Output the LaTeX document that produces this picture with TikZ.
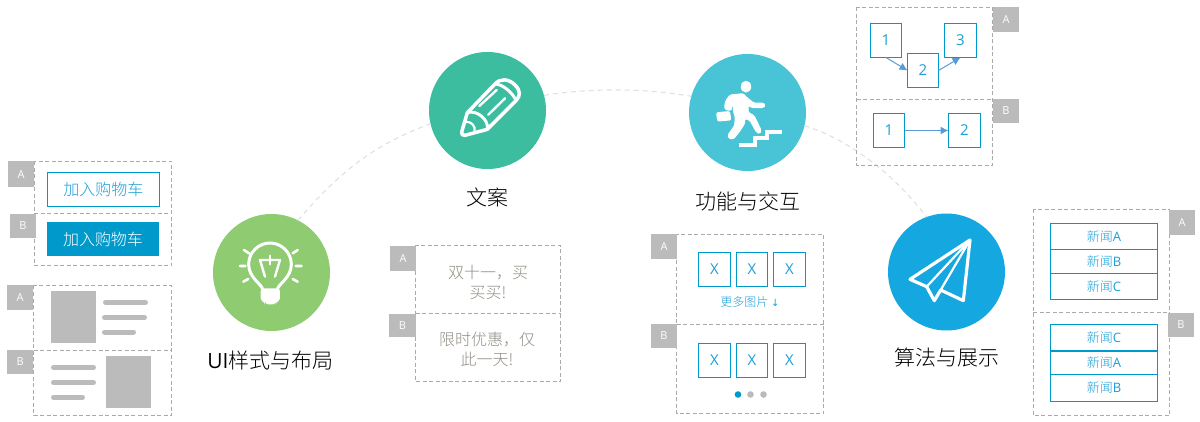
\documentclass[tikz,border=0pt]{standalone}
\usepackage{fontspec}
\setmainfont{Noto Sans CJK SC Light}
\newfontfamily\latf{Open Sans}
\newfontfamily\symf{DejaVu Sans}
\usetikzlibrary{arrows.meta}
\definecolor{mblue}{HTML}{0099CC}
\definecolor{tblue}{HTML}{1A9FD8}
\definecolor{tagg}{HTML}{BBBBBB}
\definecolor{dashg}{HTML}{AAAAAA}
\definecolor{arcg}{HTML}{E0E0E0}
\definecolor{arrowb}{HTML}{5B9BD5}
\definecolor{cgreen}{HTML}{8FCB70}
\definecolor{cteal}{HTML}{3DBDA0}
\definecolor{ccyan}{HTML}{49C4D6}
\definecolor{cblue}{HTML}{14A7E0}
\definecolor{adtext}{HTML}{928D84}
\newcommand{\fs}[1]{\fontsize{#1}{#1}\selectfont}
\tikzset{
  panel/.style={draw=dashg,line width=1pt,dash pattern=on 4pt off 2.5pt},
  arcline/.style={draw=arcg,line width=1.1pt,dash pattern=on 5pt off 4pt},
  tag/.style={fill=tagg,text=white,inner sep=0pt,outer sep=0pt,font=\latf\fs{11}},
  bluebox/.style={draw=mblue,line width=1.2pt,fill=white,text=tblue,inner sep=0pt,outer sep=0pt,font=\latf\fs{15}},
  listbox/.style={bluebox,font=\fs{13}},
  bigcircle/.style={circle,minimum size=117pt,inner sep=0pt,outer sep=0pt},
  title/.style={text=black,inner sep=0pt,font=\fs{21}},
  adcopy/.style={text=adtext,inner sep=0pt,align=center,font=\fontsize{16}{20}\selectfont},
  grayfill/.style={fill=tagg},
  grayline/.style={draw=tagg,line width=5pt,line cap=round},
  icon/.style={draw=white,line width=3pt,line cap=round,line join=round},
  flow/.style={draw=arrowb,line width=1pt,-{Latex[length=8pt,width=8pt]}}
}
\begin{document}
\begin{tikzpicture}[x=1pt,y=-1pt]
\useasboundingbox (0,0) rectangle (1200,422);
% big circles
\node[bigcircle,fill=cgreen] (bulb) at (271.5,272.5) {};
\node[bigcircle,fill=cteal] (pen) at (487.5,110.5) {};
\node[bigcircle,fill=ccyan] (run) at (747.5,112.5) {};
\node[bigcircle,fill=cblue] (plane) at (946.5,272) {};
% arc connectors
\draw[arcline] (bulb.63) .. controls (345,165) and (380,143) .. (pen.193);
\draw[arcline] (pen.15) .. controls (590,88) and (645,88) .. (run.164);
\draw[arcline] (run.-13) .. controls (850,140) and (895,175) .. (plane.110);
% titles
\node[title] (t1) at (270.5,361) {{\latf UI}样式与布局};
\node[title] (t2) at (487.7,197) {文案};
\node[title] (t3) at (747.5,201.5) {功能与交互};
\node[title] (t4) at (947,358) {算法与展示};
% bulb icon
\begin{scope}[shift={(230,235)},x=0.3333pt,y=-0.3333pt]
\draw[icon] (98,165) .. controls (98,148) and (56,130) .. (56,88) .. controls (56,53) and (85,24) .. (120,24) .. controls (155,24) and (184,53) .. (184,88) .. controls (184,130) and (142,148) .. (142,165);
\fill[white,rounded corners=3pt] (92,160) -- (150,160) -- (150,198) -- (137,200) -- (137,208) -- (105,208) -- (105,200) -- (92,198) -- cycle;
\draw[icon,line width=2.4pt] (105,125) -- (90,75) -- (150,75) -- (135,125);
\draw[icon,line width=2.4pt] (120,62) -- (120,88);
\draw[icon,line width=2.6pt] (30,93) -- (47,93) (197,93) -- (215,93) (42,45) -- (57,55) (188,55) -- (203,45) (40,140) -- (55,132) (188,132) -- (203,140);
\end{scope}
% pencil icon
\begin{scope}[shift={(450,70)},x=0.3333pt,y=-0.3333pt]
\draw[icon,line width=3.5pt] (52,128) -- (135,42) .. controls (150,25) and (175,25) .. (195,45) .. controls (212,62) and (212,78) .. (198,92) -- (112,178) -- (45,196) .. controls (38,198) and (33,192) .. (35,186) -- cycle;
\draw[icon] (135,42) .. controls (158,42) and (190,70) .. (198,92);
\draw[icon,line width=3pt] (52,128) .. controls (80,118) and (118,150) .. (112,178);
\draw[icon,line width=2.4pt] (88,108) -- (140,60) (115,134) -- (165,85);
\draw[icon,line width=2.2pt] (46,156) .. controls (62,152) and (78,168) .. (74,186);
\end{scope}
% runner icon
\begin{scope}[shift={(710,75)},x=0.3333pt,y=-0.3333pt]
\fill[white] (108,35) ellipse [x radius=5.2pt,y radius=5.9pt];
\filldraw[white,line width=1pt,line join=round,rounded corners=1.5pt] (47,78) -- (60,60) -- (100,56) -- (106,64) -- (132,85) -- (160,84) -- (166,91) -- (160,98) -- (126,98) -- (114,90) -- (114,112) -- (132,122) -- (153,165) -- (150,176) -- (140,172) -- (120,136) -- (104,130) -- (104,145) -- (88,170) -- (70,192) -- (56,190) -- (54,180) -- (74,152) -- (76,126) -- (70,108) -- (70,88) -- (62,100) -- (64,106) -- (46,104) -- (44,96) -- cycle;
\fill[white,rounded corners=2pt] (18,112) -- (60,108) -- (64,136) -- (22,140) -- cycle;
\draw[white,line width=4pt,line join=miter] (86,210) -- (135,210) -- (135,190) -- (172,190) -- (172,170) -- (216,170);
\end{scope}
% plane icon
\begin{scope}[shift={(900,230)},x=0.3333pt,y=-0.3333pt]
\draw[icon,line width=3.2pt] (210,30) -- (30,148) -- (80,170) -- (103,212) -- (122,180) -- (190,212) -- cycle;
\draw[icon,line width=2.2pt] (210,30) -- (80,170) (210,30) -- (122,180);
\end{scope}
% panel: buttons
\draw[panel] (34,161.5) rectangle (171.5,265.5);
\draw[panel] (34,213.5) -- (171.5,213.5);
\node[tag,minimum width=26pt,minimum height=26pt] (a1) at (21,174.5) {A};
\node[tag,minimum width=26pt,minimum height=24pt] (b1) at (23,226) {B};
\node[draw=mblue,line width=1.2pt,text=tblue,inner sep=0pt,minimum width=112pt,minimum height=34pt,font=\fs{16}] (btn1) at (103.3,189.5) {加入购物车};
\node[fill=mblue,text=white,inner sep=0pt,minimum width=112pt,minimum height=34pt,font=\fs{16}] (btn2) at (103,239) {加入购物车};
% panel: layout
\draw[panel] (33.5,285.5) rectangle (171.5,415.5);
\draw[panel] (33.5,350.5) -- (171.5,350.5);
\node[tag,minimum width=26.5pt,minimum height=25pt] (a2) at (20.2,297.5) {A};
\node[tag,minimum width=26.5pt,minimum height=24pt] (b2) at (20.2,362) {B};
\fill[grayfill] (51,291) rectangle (96,343);
\draw[grayline] (105.5,302.5) -- (145.5,302.5);
\draw[grayline] (104.5,317.5) -- (144.5,317.5);
\draw[grayline] (104.5,332) -- (133.5,332);
\draw[grayline] (53.5,367.5) -- (93.5,367.5);
\draw[grayline] (53.5,382.5) -- (93.5,382.5);
\draw[grayline] (53.5,397.5) -- (82.5,397.5);
\fill[grayfill] (106,356) rectangle (151,408);
% panel: copy
\draw[panel] (415.5,245.5) rectangle (560.5,381.5);
\draw[panel] (415.5,313.5) -- (560.5,313.5);
\node[tag,minimum width=26pt,minimum height=25pt] (a3) at (403,258.5) {A};
\node[tag,minimum width=27pt,minimum height=23pt] (b3) at (402.5,325.5) {B};
\node[adcopy] (c1) at (488,282) {双十一，买\\买买!};
\node[adcopy] (c2) at (487,349.5) {限时优惠，仅\\此一天!};
% panel: more/pager
\draw[panel] (676.5,234.5) rectangle (823.5,413.5);
\draw[panel] (676.5,324.5) -- (823.5,324.5);
\node[tag,minimum width=26pt,minimum height=25pt] (a4) at (664,246.5) {A};
\node[tag,minimum width=26pt,minimum height=24pt] (b4) at (664,336) {B};
\foreach \n/\cx/\w in {1/714.5/32,2/752/31,3/789.5/32}{
  \node[bluebox,minimum width=\w pt,minimum height=34pt] (xa\n) at (\cx,269.5) {X};
  \node[bluebox,minimum width=\w pt,minimum height=34pt] (xb\n) at (\cx,360.5) {X};
}
\node[text=tblue,inner sep=0pt,font=\fs{12}] (more) at (750,301.5) {更多图片 {\symf\fs{10}↓}};
\fill[mblue] (738,394.5) circle [radius=3.3pt];
\fill[tagg] (750.5,394.5) circle [radius=3.3pt];
\fill[tagg] (763.5,394.5) circle [radius=3.3pt];
% panel: flow
\draw[panel] (856.7,7.3) rectangle (992.7,165.3);
\draw[panel] (856.7,99.3) -- (992.7,99.3);
\node[tag,minimum width=26pt,minimum height=25pt] (a5) at (1006,19.5) {A};
\node[tag,minimum width=26pt,minimum height=24pt] (b5) at (1006,111) {B};
\node[bluebox,minimum width=31pt,minimum height=34pt] (f1) at (886,40.5) {1};
\node[bluebox,minimum width=31pt,minimum height=34pt] (f2) at (923,70.5) {2};
\node[bluebox,minimum width=32pt,minimum height=34pt] (f3) at (960.5,40.5) {3};
\node[bluebox,minimum width=31pt,minimum height=34pt] (g1) at (889,130.5) {1};
\node[bluebox,minimum width=32pt,minimum height=34pt] (g2) at (964.5,130.5) {2};
\draw[flow] (f1.south) -- (f2.west);
\draw[flow] (f2.east) -- (f3.south);
\draw[flow] (g1.east) -- (g2.west);
% panel: news list
\draw[panel] (1033.3,209.3) rectangle (1169.3,415.7);
\draw[panel] (1033.3,312.3) -- (1169.3,312.3);
\node[tag,minimum width=26pt,minimum height=25pt] (a6) at (1182,222.5) {A};
\node[tag,minimum width=26pt,minimum height=24pt] (b6) at (1181,325) {B};
\node[listbox,minimum width=107pt,minimum height=26pt] (na1) at (1104,236.5) {新闻{\latf A}};
\node[listbox,minimum width=107pt,minimum height=24pt] (na2) at (1104,261.5) {新闻{\latf B}};
\node[listbox,minimum width=107pt,minimum height=26pt] (na3) at (1104,286.5) {新闻{\latf C}};
\node[listbox,minimum width=107pt,minimum height=26.5pt] (nb1) at (1104,337.5) {新闻{\latf C}};
\node[listbox,minimum width=107pt,minimum height=23.7pt] (nb2) at (1104,362.8) {新闻{\latf A}};
\node[listbox,minimum width=107pt,minimum height=26.6pt] (nb3) at (1104,388) {新闻{\latf B}};
\draw[mblue,line width=2pt] (nb1.south west) -- (nb1.south east);
\end{tikzpicture}
\end{document}
